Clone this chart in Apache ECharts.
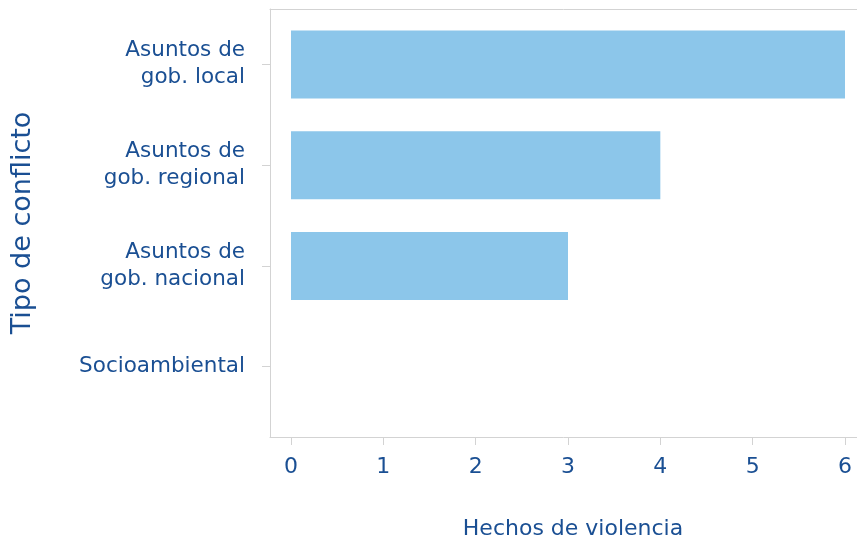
<!DOCTYPE html>
<html>
<head>
<meta charset="utf-8">
<script src="https://cdn.jsdelivr.net/npm/echarts@6/dist/echarts.min.js"></script>
<style>
  html, body { margin: 0; padding: 0; background: #fff; }
  #chart { width: 857px; height: 545px; }
</style>
</head>
<body>
<div id="chart"></div>
<script>
// Violent events by conflict type
const categories = [
  'Asuntos de\ngob. local',
  'Asuntos de\ngob. regional',
  'Asuntos de\ngob. nacional',
  'Socioambiental'
];
const hechos = [6, 4, 3, 0];
const xTicks = [0, 1, 2, 3, 4, 5, 6];

const FONT = 'DejaVu Sans';
const TEXT = '#1a4f93';
const LINE = '#d3d3d3';
const X_MIN = -0.2274;
const X_MAX = 6.13;

const chart = echarts.init(document.getElementById('chart'));
chart.setOption({
  animation: false,
  grid: [
    // outer frame: axis lines, x ticks, axis names
    { left: 270, right: 0, top: 9, bottom: 107 },
    // inner band area holding the bars
    { left: 270, right: 0, top: 14, bottom: 128 }
  ],
  xAxis: [
    {
      gridIndex: 0, type: 'value', min: X_MIN, max: X_MAX,
      name: 'Hechos de violencia', nameLocation: 'middle', nameGap: 81,
      nameTextStyle: { color: TEXT, fontFamily: FONT, fontSize: 22, padding: [0, 0, 0, 19] },
      axisLine: { show: true, onZero: false, lineStyle: { color: LINE, width: 1 } },
      axisTick: { show: true, length: 8, customValues: xTicks, lineStyle: { color: LINE } },
      axisLabel: { customValues: xTicks, margin: 19, color: TEXT, fontFamily: FONT, fontSize: 22 },
      splitLine: { show: false }
    },
    {
      gridIndex: 0, type: 'value', position: 'top', min: X_MIN, max: X_MAX,
      axisLine: { show: true, onZero: false, lineStyle: { color: LINE, width: 1 } },
      axisTick: { show: false }, axisLabel: { show: false }, splitLine: { show: false }
    },
    {
      gridIndex: 1, type: 'value', min: X_MIN, max: X_MAX, show: false
    }
  ],
  yAxis: [
    {
      gridIndex: 0, type: 'value', min: 0, max: 1,
      name: 'Tipo de conflicto', nameLocation: 'middle', nameGap: 234,
      nameTextStyle: { color: TEXT, fontFamily: FONT, fontSize: 27 },
      axisLine: { show: true, onZero: false, lineStyle: { color: LINE, width: 1 } },
      axisTick: { show: false }, axisLabel: { show: false }, splitLine: { show: false }
    },
    {
      gridIndex: 1, type: 'category', data: categories, inverse: true,
      axisLine: { show: false, onZero: false },
      axisTick: { show: true, alignWithLabel: true, length: 8, lineStyle: { color: LINE } },
      axisLabel: { margin: 25, color: TEXT, fontFamily: FONT, fontSize: 21.5, lineHeight: 27, align: 'right' }
    }
  ],
  series: [
    {
      type: 'bar', xAxisIndex: 2, yAxisIndex: 1,
      data: hechos, barWidth: 68,
      itemStyle: { color: '#8cc6ea' }
    }
  ]
});
</script>
</body>
</html>
